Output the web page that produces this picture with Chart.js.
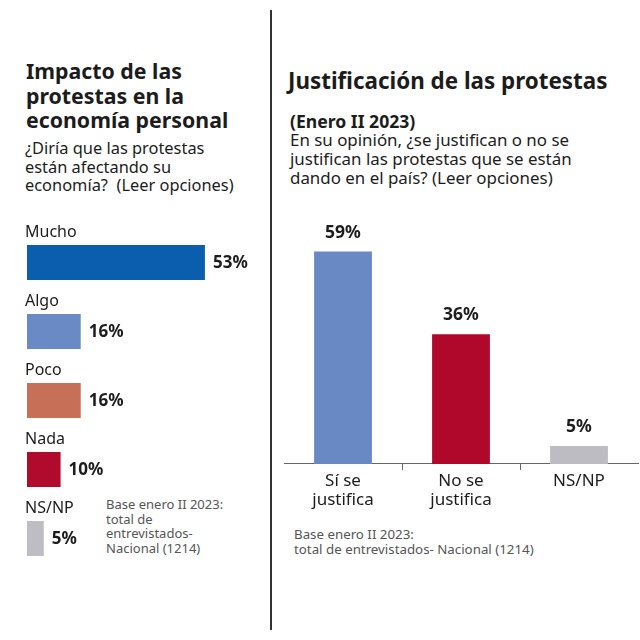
<!DOCTYPE html>
<html>
<head>
<meta charset="utf-8">
<script src="https://cdn.jsdelivr.net/npm/chart.js@4.4.1/dist/chart.umd.min.js"></script>
<style>
  html, body { margin: 0; padding: 0; background: #fff; }
  body { width: 640px; height: 640px; position: relative; overflow: hidden; font-family: "Noto Sans", sans-serif; color: #1c1c1c; }
  .abs { position: absolute; white-space: nowrap; }
  .title { font-weight: 700; font-size: 21.3px; line-height: 24.5px; }
  .sub { font-size: 16.4px; line-height: 18.7px; }
  .note { font-size: 13px; line-height: 14.7px; color: #555; }
  #sep { left: 270px; top: 10px; width: 2px; height: 620px; background: #333; }
  canvas { position: absolute; top: 0; }
</style>
</head>
<body>
<div id="sep" class="abs"></div>

<div class="abs title" style="left:26px; top:59px;">Impacto de las<br>protestas en la<br>economía personal</div>
<div class="abs sub" style="left:25px; top:139px;">¿Diría que las protestas<br>están afectando su<br>economía?&nbsp; (Leer opciones)</div>
<div class="abs note" style="left:106px; top:497px;">Base enero II 2023:<br>total de<br>entrevistados-<br>Nacional (1214)</div>

<div class="abs title" style="left:288px; top:67px; font-size:22.4px; line-height:28px;">Justificación de las protestas</div>
<div class="abs" style="left:290px; top:110px; font-size:17.6px; line-height:22px; font-weight:700;">(Enero II 2023)</div>
<div class="abs sub" style="left:290px; top:130px; font-size:16.9px; line-height:19px;">En su opinión, ¿se justifican o no se<br>justifican las protestas que se están<br>dando en el país? (Leer opciones)</div>
<div class="abs note" style="left:294px; top:527px; font-size:13.3px;">Base enero II 2023:<br>total de entrevistados- Nacional (1214)</div>

<div style="position:absolute; left:0; top:0; width:272px; height:640px;"><canvas id="impacto"></canvas></div>
<div style="position:absolute; left:272px; top:0; width:368px; height:640px;"><canvas id="justif"></canvas></div>

<script>
"use strict";

// impacto en la economía personal
const impactoLabels = ["Mucho", "Algo", "Poco", "Nada", "NS/NP"];
const impactoValues = [53, 16, 16, 10, 5];
const impactoColors = ["#0b5eae", "#6a8ac6", "#c86f58", "#b00a2c", "#bdbdc3"];

// justificación de las protestas
const justifLabels = [["Sí se", "justifica"], ["No se", "justifica"], "NS/NP"];
const justifValues = [59, 36, 5];
const justifColors = ["#6889c3", "#b0082b", "#bcbcc2"];

const TEXT = "#1c1c1c";
const FONT = "'Noto Sans', sans-serif";

Chart.defaults.font.family = FONT;
Chart.defaults.color = TEXT;

// labels above each bar + value at the end of it
const impactoLabelsPlugin = {
  id: "impactoLabels",
  afterDatasetsDraw(chart) {
    const ctx = chart.ctx;
    const meta = chart.getDatasetMeta(0);
    ctx.save();
    ctx.fillStyle = TEXT;
    ctx.textBaseline = "middle";
    meta.data.forEach(function(bar, i) {
      const top = bar.y - bar.height / 2;
      ctx.font = "16px " + FONT;
      ctx.textAlign = "left";
      ctx.fillText(chart.data.labels[i], 25, top - 13);
      ctx.font = "bold 17px " + FONT;
      ctx.fillText(chart.data.datasets[0].data[i] + "%", bar.x + 8, bar.y + 1);
    });
    ctx.restore();
  }
};

const justifValuePlugin = {
  id: "justifValues",
  afterDatasetsDraw(chart) {
    const ctx = chart.ctx;
    const meta = chart.getDatasetMeta(0);
    ctx.save();
    ctx.fillStyle = TEXT;
    ctx.font = "bold 17.5px " + FONT;
    ctx.textAlign = "center";
    ctx.textBaseline = "middle";
    meta.data.forEach(function(bar, i) {
      ctx.fillText(chart.data.datasets[0].data[i] + "%", bar.x, bar.y - 19);
    });
    ctx.restore();
  }
};

new Chart(document.getElementById("impacto"), {
  type: "bar",
  data: {
    labels: impactoLabels,
    datasets: [{
      data: impactoValues,
      backgroundColor: impactoColors,
      borderWidth: 0,
      categoryPercentage: 1,
      barPercentage: 0.507
    }]
  },
  options: {
    indexAxis: "y",
    responsive: true,
    maintainAspectRatio: false,
    animation: false,
    layout: { padding: { top: 228, bottom: 67, left: 27, right: 10 } },
    scales: {
      x: { display: false, min: 0, max: 70 },
      y: { display: false }
    },
    plugins: { legend: { display: false }, tooltip: { enabled: false } }
  },
  plugins: [impactoLabelsPlugin]
});

new Chart(document.getElementById("justif"), {
  type: "bar",
  data: {
    labels: justifLabels,
    datasets: [{
      data: justifValues,
      backgroundColor: justifColors,
      borderWidth: 0,
      categoryPercentage: 1,
      barPercentage: 0.49
    }]
  },
  options: {
    responsive: true,
    maintainAspectRatio: false,
    animation: false,
    layout: { padding: { top: 212, bottom: 128, left: 12, right: 2 } },
    scales: {
      x: {
        offset: true,
        border: { display: true, color: "#666", width: 1 },
        grid: {
          offset: true,
          drawOnChartArea: false,
          tickLength: 6,
          color: function(c) {
            return (c.index === 1 || c.index === 2) ? "#666" : "rgba(0,0,0,0)";
          }
        },
        ticks: {
          color: TEXT,
          padding: 2,
          font: { size: 17, lineHeight: 1.12 },
          maxRotation: 0
        }
      },
      y: { display: false, min: 0, max: 70 }
    },
    plugins: { legend: { display: false }, tooltip: { enabled: false } }
  },
  plugins: [justifValuePlugin]
});
</script>
</body>
</html>
